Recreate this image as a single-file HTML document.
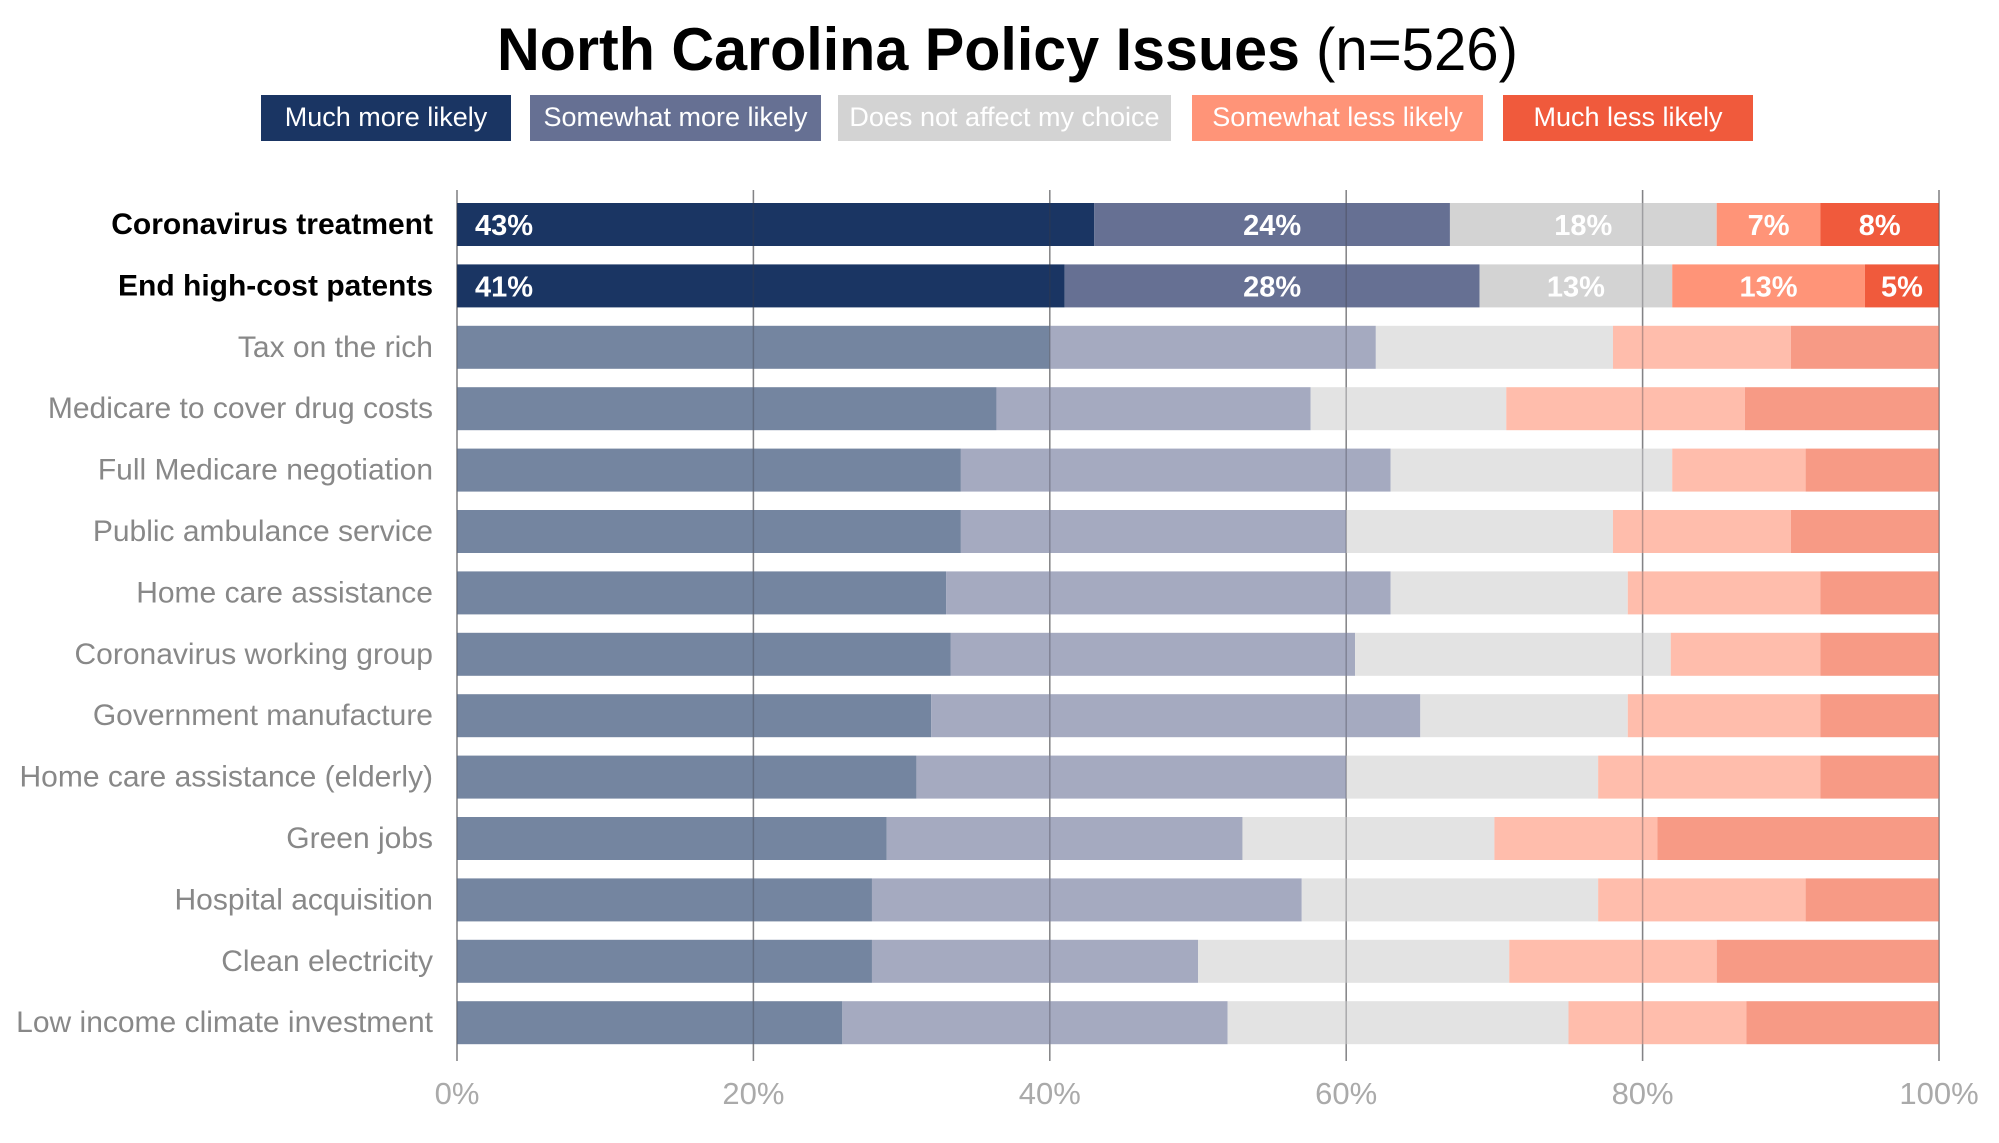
<!DOCTYPE html>
<html><head><meta charset="utf-8"><style>
html,body{margin:0;padding:0;background:#fff;}
svg{display:block;font-family:"Liberation Sans Narrow","Liberation Sans",sans-serif;}
</style></head><body>
<svg id="chart" width="1999" height="1143" viewBox="0 0 1999 1143" xmlns="http://www.w3.org/2000/svg">
<g>
<text x="497" y="70" font-size="60" font-weight="bold" fill="#000" textLength="803" lengthAdjust="spacingAndGlyphs">North Carolina Policy Issues</text>
<text x="1316" y="70" font-size="60" fill="#000" textLength="202" lengthAdjust="spacingAndGlyphs">(n=526)</text>
</g>
<g id="legend"></g>
<g id="grid"></g>
<g id="bars"></g>
<g id="gridTop"></g>
<g id="labels"></g>
<g id="xaxis"></g>
</svg>
<script>
const categories = ["Coronavirus treatment","End high-cost patents","Tax on the rich","Medicare to cover drug costs","Full Medicare negotiation","Public ambulance service","Home care assistance","Coronavirus working group","Government manufacture","Home care assistance (elderly)","Green jobs","Hospital acquisition","Clean electricity","Low income climate investment"];
const muchMore = [43,41,40,36.4,34,34,33,33.3,32,31,29,28,28,26];
const somewhatMore = [24,28,22,21.2,29,26,30,27.3,33,29,24,29,22,26];
const noEffect = [18,13,16,13.2,19,18,16,21.3,14,17,17,20,21,23];
const somewhatLess = [7,13,12,16.1,9,12,13,10.1,13,15,11,14,14,12];
const muchLess = [8,5,10,13.1,9,10,8,8,8,8,19,9,15,13];
const highlighted = [true,true,false,false,false,false,false,false,false,false,false,false,false,false];
const seriesNames = ["Much more likely","Somewhat more likely","Does not affect my choice","Somewhat less likely","Much less likely"];
const ticks = [0,20,40,60,80,100];

const NS="http://www.w3.org/2000/svg";
const X0=457, X1=1949-10, Y0=203, PITCH=61.4, BH=43;
const x = v => X0 + (X1-X0)*v/100;
const yRow = i => Y0 + i*PITCH;
const strong = ["#1a3563","#667093","#d3d3d3","#ff9478","#f05a3c"];
const soft = ["#7485a0","#a5aac0","#e3e3e3","#ffbdac","#f79a85"];
const series = [muchMore,somewhatMore,noEffect,somewhatLess,muchLess];
function mk(tag, attrs, parent){const e=document.createElementNS(NS,tag);for(const k in attrs)e.setAttribute(k,attrs[k]);parent.appendChild(e);return e;}

const legend=document.getElementById('legend');
const legX=[261,530,838,1192,1503], legW=[250,291,333,291,250];
seriesNames.forEach((n,i)=>{
  const r=mk('rect',{x:legX[i],y:95,width:legW[i],height:46,fill:strong[i]},legend);
  
  
  const t=mk('text',{x:legX[i]+legW[i]/2,y:126,'text-anchor':'middle','font-size':27,fill:'#fff'},legend);
  t.textContent=n;
  
  
});

const grid=document.getElementById('grid'), gridTop=document.getElementById('gridTop');
ticks.forEach(t=>{
  const l=mk('line',{x1:x(t),x2:x(t),y1:190,y2:1061,stroke:'#aaa','stroke-width':1.5},grid);
  
  
  const l2=mk('line',{x1:x(t),x2:x(t),y1:190,y2:1061,stroke:'rgba(60,60,70,0.35)','stroke-width':1.5},gridTop);
  
  
  const tx=mk('text',{x:x(t),y:1104,'text-anchor':'middle','font-size':31,fill:'#aaa'},document.getElementById('xaxis'));
  tx.textContent=t+'%';
  
  
});

const bars=document.getElementById('bars'), labels=document.getElementById('labels');
categories.forEach((c,i)=>{
  let cum=0;
  const cols = highlighted[i]?strong:soft;
  series.forEach((s,j)=>{
    const v=s[i];
    const r=mk('rect',{x:x(cum),y:yRow(i),width:x(cum+v)-x(cum),height:BH,fill:cols[j]},bars);
    
    
    if(highlighted[i]){
      const t=mk('text',{'font-size':29,'font-weight':'bold',fill:'#fff',y:yRow(i)+32},bars);
      if(j===0){t.setAttribute('x',x(cum)+18);}
      else{t.setAttribute('x',(x(cum)+x(cum+v))/2);t.setAttribute('text-anchor','middle');}
      t.textContent=Math.round(v)+'%';
      
      
    }
    cum+=v;
  });
  const lt=mk('text',{x:433,y:yRow(i)+31,'text-anchor':'end','font-size':30,'font-weight':highlighted[i]?'bold':'normal',fill:highlighted[i]?'#000':'#888'},labels);
  lt.textContent=c;
  
  
});
</script>
</body></html>
